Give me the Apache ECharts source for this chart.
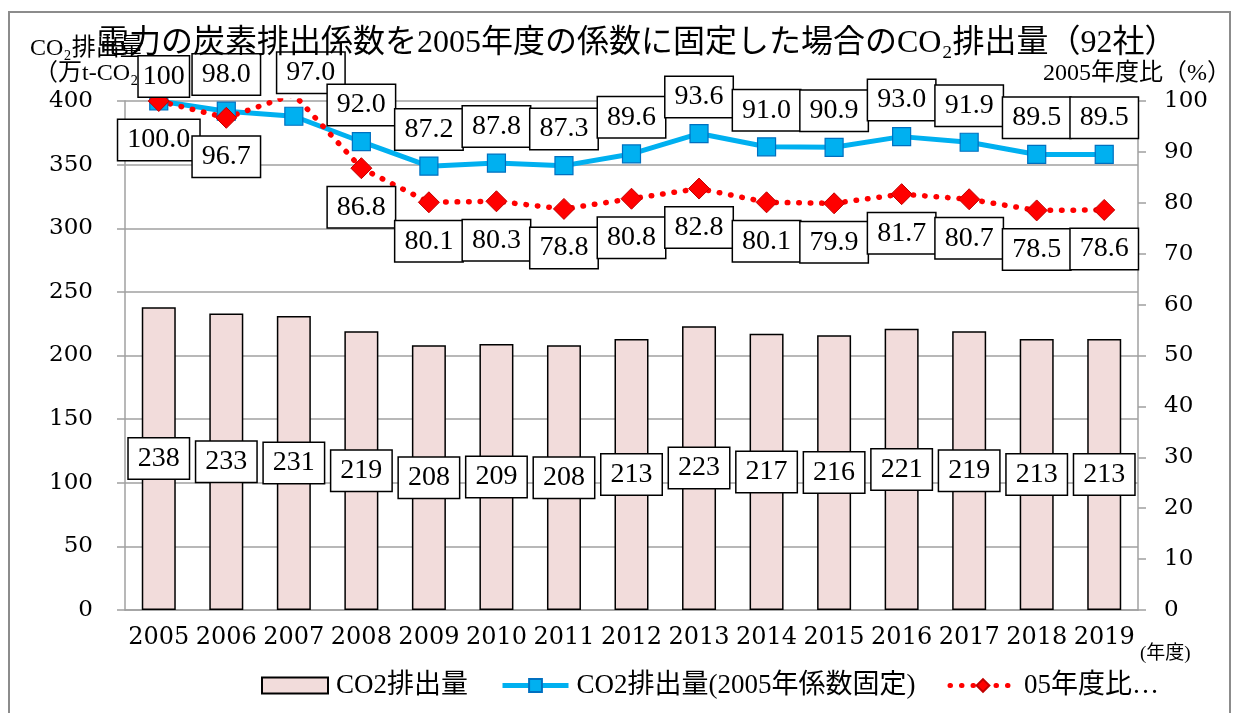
<!DOCTYPE html>
<html lang="ja">
<head>
    <meta charset="UTF-8">
    <title>CO2排出量</title>
    <style>
        html, body { margin: 0; padding: 0; background: #fff; }
        #myChart { width: 1235px; height: 713px; }
    </style>
</head>
<body>
<div id="myChart"></div>
<script src="https://cdn.jsdelivr.net/npm/echarts@6/dist/echarts.min.js"></script>
<script>
    // 年度
    const years = ['2005', '2006', '2007', '2008', '2009', '2010', '2011', '2012', '2013', '2014', '2015', '2016', '2017', '2018', '2019'];
    // CO2排出量（万t-CO2）
    const co2 = [238, 233, 231, 219, 208, 209, 208, 213, 223, 217, 216, 221, 219, 213, 213];
    // CO2排出量(2005年係数固定) 2005年度比（%）
    const co2Fixed = [100, 98.0, 97.0, 92.0, 87.2, 87.8, 87.3, 89.6, 93.6, 91.0, 90.9, 93.0, 91.9, 89.5, 89.5];
    // 05年度比（%） 2007年度はグラフ上端の外
    const ratio05 = [100.0, 96.7, 101.3, 86.8, 80.1, 80.3, 78.8, 80.8, 82.8, 80.1, 79.9, 81.7, 80.7, 78.5, 78.6];

    const serif = "'Liberation Serif', 'Noto Sans CJK JP'";
    const numFont = "'DejaVu Serif', 'Noto Sans CJK JP'";
    const gray = '#a0a0a0';

    const boxLabel = {
        show: true,
        fontFamily: serif,
        fontSize: 28,
        lineHeight: 30,
        color: '#000',
        backgroundColor: '#fff',
        borderColor: '#000',
        borderWidth: 1.5,
        padding: [5, 9]
    };

    // ラベル位置の微調整（青線）
    const blueTweaks = {
        0: { offset: [5, 12], padding: [5, 4] },
        2: { offset: [17, -7] }
    };
    const blueData = co2Fixed.map((v, i) => blueTweaks[i] ? { value: v, label: blueTweaks[i] } : v);

    var myChart = echarts.init(document.getElementById('myChart'));

    option = {
        backgroundColor: '#fff',
        animation: false,
        title: {
            text: '電力の炭素排出係数を2005年度の係数に固定した場合のCO₂排出量（92社）',
            left: 92,
            top: 23,
            textStyle: { fontFamily: serif, fontSize: 32, fontWeight: 'normal', color: '#000' }
        },
        grid: { left: 125, right: 97, top: 101, bottom: 103 },
        legend: {
            left: 256,
            top: 667,
            itemWidth: 66,
            itemHeight: 16,
            itemGap: 32,
            textStyle: { fontFamily: serif, fontSize: 27, color: '#000', padding: [0, 0, 0, 3] },
            data: [
                { name: 'CO2排出量', icon: 'rect' },
                { name: 'CO2排出量(2005年係数固定)', lineStyle: { width: 5 } },
                { name: '05年度比…', lineStyle: { width: 5 } }
            ]
        },
        xAxis: {
            type: 'category',
            data: years,
            axisLine: { lineStyle: { color: gray, width: 1.5 } },
            axisTick: { length: 9, lineStyle: { color: gray, width: 1.5 } },
            axisLabel: { color: '#000', fontFamily: numFont, fontSize: 24, margin: 16, interval: 0, hideOverlap: false }
        },
        yAxis: [
            {
                type: 'value',
                min: 0,
                max: 400,
                interval: 50,
                axisLine: { show: true, lineStyle: { color: gray, width: 1.5 } },
                axisTick: { show: true, length: 8, lineStyle: { color: gray, width: 1.5 } },
                axisLabel: { color: '#000', fontFamily: numFont, fontSize: 23, margin: 32 },
                splitLine: { lineStyle: { color: gray, width: 1.5 } }
            },
            {
                type: 'value',
                min: 0,
                max: 100,
                interval: 10,
                axisLine: { show: true, lineStyle: { color: gray, width: 1.5 } },
                axisTick: { show: true, length: 8, lineStyle: { color: gray, width: 1.5 } },
                axisLabel: { color: '#000', fontFamily: numFont, fontSize: 23, margin: 26 },
                splitLine: { show: false }
            }
        ],
        graphic: [
            {
                type: 'rect',
                shape: { x: 9, y: 12, width: 1221, height: 720 },
                style: { fill: 'none', stroke: '#8c8c8c', lineWidth: 2 },
                silent: true
            },
            {
                type: 'text', left: 30, top: 37,
                style: { text: 'CO₂排出量', fontFamily: serif, fontSize: 24, fill: '#000' }
            },
            {
                type: 'text', left: 34, top: 62,
                style: { text: '（万t-CO₂）', fontFamily: serif, fontSize: 24, fill: '#000' }
            },
            {
                type: 'text', right: 4, top: 62,
                style: { text: '2005年度比（%）', fontFamily: serif, fontSize: 24, fill: '#000' }
            },
            {
                type: 'text', left: 1140, top: 645,
                style: { text: '(年度)', fontFamily: serif, fontSize: 19, fill: '#000' }
            }
        ],
        series: [
            {
                name: 'CO2排出量',
                type: 'bar',
                barWidth: 34,
                itemStyle: { color: '#F2DCDB', borderColor: '#000', borderWidth: 1.5 },
                label: Object.assign({}, boxLabel, { position: 'inside' }),
                data: co2
            },
            {
                name: 'CO2排出量(2005年係数固定)',
                type: 'line',
                yAxisIndex: 1,
                symbol: 'rect',
                symbolSize: 18,
                lineStyle: { color: '#00B0F0', width: 5 },
                itemStyle: { color: '#00B0F0', borderColor: '#0070C0', borderWidth: 1.2 },
                label: Object.assign({}, boxLabel, {
                    position: 'top',
                    distance: 7,
                    formatter: p => p.value === 100 ? '100' : p.value.toFixed(1)
                }),
                data: blueData
            },
            {
                name: '05年度比…',
                type: 'line',
                yAxisIndex: 1,
                symbol: 'diamond',
                symbolSize: 21,
                clip: true,
                lineStyle: { color: '#FF0000', width: 5.5, type: [0.5, 11], cap: 'round' },
                itemStyle: { color: '#FF0000', borderColor: '#C00000', borderWidth: 1 },
                label: Object.assign({}, boxLabel, {
                    position: 'bottom',
                    distance: 8,
                    formatter: p => p.value.toFixed(1)
                }),
                data: ratio05
            }
        ]
    };
    myChart.setOption(option);
</script>
</body>
</html>
